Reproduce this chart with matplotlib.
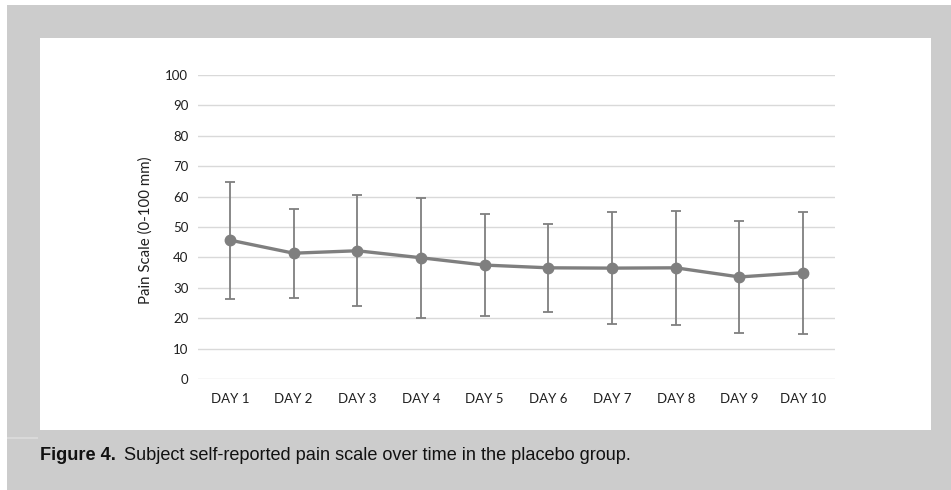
import matplotlib
matplotlib.use("Agg")
import matplotlib.pyplot as plt
from matplotlib.patches import Rectangle
from matplotlib import font_manager

# Daily pain scores (mean and standard deviation, 0-100 mm VAS)
days = ["DAY 1", "DAY 2", "DAY 3", "DAY 4", "DAY 5",
        "DAY 6", "DAY 7", "DAY 8", "DAY 9", "DAY 10"]
pain_mean = [45.7, 41.4, 42.2, 39.9, 37.5, 36.6, 36.5, 36.6, 33.6, 35.0]
pain_sd = [19.2, 14.6, 18.2, 19.7, 16.7, 14.4, 18.4, 18.7, 18.5, 20.0]
y_ticks = [0, 10, 20, 30, 40, 50, 60, 70, 80, 90, 100]

y_label = "Pain Scale (0-100 mm)"
caption_bold = "Figure 4."
caption_text = "Subject self-reported pain scale over time in the placebo group."

names = {f.name for f in font_manager.fontManager.ttflist}
tick_font = "Lato" if "Lato" in names else "DejaVu Sans"
cap_font = "Liberation Sans"

W, H = 951, 490
fig = plt.figure(figsize=(W / 100, H / 100), dpi=100)
fig.patch.set_facecolor("white")


def px_rect(x0, y0, x1, y1, color, z):
    fig.patches.append(Rectangle((x0 / W, 1 - y1 / H), (x1 - x0) / W, (y1 - y0) / H,
                                 transform=fig.transFigure, facecolor=color,
                                 edgecolor="none", zorder=z))


# gray page panel and white chart area
px_rect(7, 5, W, H, "#cccccc", 0)
px_rect(40, 38, 931, 430, "#ffffff", 1)
px_rect(7, 437, 38, 438.5, "#d9d9d9", 1)

ax_left, ax_right = 198, 835
ax_top, ax_bottom = 74.7, 379.3
ax = fig.add_axes([ax_left / W, 1 - ax_bottom / H,
                   (ax_right - ax_left) / W, (ax_bottom - ax_top) / H])
ax.set_facecolor("none")
ax.set_zorder(2)

x = list(range(len(days)))
line_color = "#7f7f7f"
ax.errorbar(x, pain_mean, yerr=pain_sd, color=line_color, linewidth=2.4,
            marker="o", markersize=7.5, ecolor=line_color, elinewidth=1.3,
            capsize=3.5, capthick=1.3, zorder=3)

ax.set_xlim(-0.5, len(days) - 0.5)
ax.set_ylim(0, 100)
ax.set_yticks(y_ticks)
ax.set_xticks(x)
ax.set_xticklabels(days)
ax.yaxis.grid(True, color="#d9d9d9", linewidth=1.0)
ax.set_axisbelow(True)
for s in ax.spines.values():
    s.set_visible(False)
ax.tick_params(axis="both", length=0, labelsize=9.5, colors="#1f1f1f")
ax.tick_params(axis="y", pad=7)
ax.tick_params(axis="x", pad=10)
for lab in ax.get_xticklabels() + ax.get_yticklabels():
    lab.set_fontfamily(tick_font)

fig.text(146 / W, 1 - 230 / H, y_label, rotation=90, ha="center", va="center",
         fontsize=10.8, family=tick_font, color="#1f1f1f")

# caption below the chart
t = fig.text(40 / W, 1 - 456 / H, caption_bold, ha="left", va="center",
             fontsize=13.1, fontweight="bold", family=cap_font, color="#111111")
fig.canvas.draw()
bb = t.get_window_extent()
fig.text((bb.x1 + 8) / W, 1 - 456 / H, caption_text, ha="left", va="center",
         fontsize=13.1, family=cap_font, color="#111111")

fig.savefig("out.png", dpi=100)
